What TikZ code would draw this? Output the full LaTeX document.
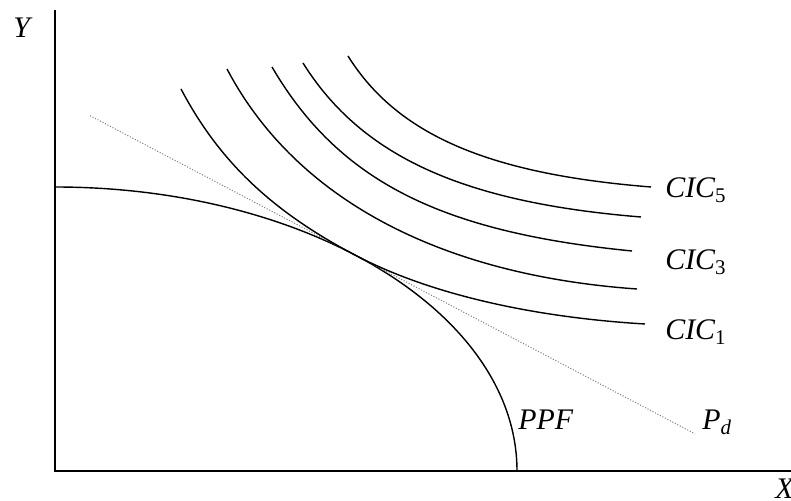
\documentclass[tikz,border=0pt]{standalone}
\usepackage{fontspec}
\setmainfont{Liberation Serif}
\usepackage{tikz}
\usetikzlibrary{calc}

\tikzset{
  axisline/.style={line width=1pt},
  curveline/.style={line width=0.8pt},
  priceline/.style={densely dotted, gray, line width=0.6pt},
  lbl/.style={font=\fontsize{17}{20}\selectfont\itshape, inner sep=0pt, anchor=base west}
}

\begin{document}
\begin{tikzpicture}
        \useasboundingbox (0,0) rectangle (15.82,10.02);

        % Axes
        \coordinate (origin) at (1.10,0.60);
        \draw[axisline] (1.10,9.82) -- (origin) -- (15.82,0.60);
        \node[lbl] (ylabel) at (0.26,9.26) {Y};
        \node[lbl] (xlabel) at (15.50,0.05) {X};

        % Production possibility frontier
        \draw[curveline] (1.10,6.28) arc[start angle=90, end angle=0, x radius=9.24, y radius=5.68];
        \coordinate (tp) at ($(origin)+(49.45:9.24 and 5.68)$);
        \node[lbl] (ppf) at (10.36,1.42) {PPF};

        % Price line (tangent at tp)
        \draw[priceline] ($(tp)+(-5.306,2.790)$) -- ($(tp)+(6.794,-3.572)$);
        \node[lbl] (pd) at (14.04,1.42) {P\textsubscript{d}};

        % Community indifference curves
        \draw[curveline] (3.62,8.24) .. controls (4.38,6.80) and ($(tp)+(-1.68,0.883)$) .. (tp)
            .. controls ($(tp)+(1.434,-0.754)$) and (10.57,3.68) .. (12.90,3.54);
        \draw[curveline] (4.54,8.64) .. controls (5.90,6.06) and (8.77,4.52) .. (12.74,4.24);
        \draw[curveline] (5.44,8.68) .. controls (6.77,6.41) and (8.79,5.38) .. (12.64,5.00);
        \draw[curveline] (6.06,8.76) .. controls (7.23,6.89) and (9.26,5.97) .. (12.82,5.68);
        \draw[curveline] (6.96,8.90) .. controls (7.94,7.33) and (9.76,6.54) .. (13.02,6.28);

        \node[lbl] (cic5) at (13.30,6.06) {CIC\textsubscript{\upshape 5}};
        \node[lbl] (cic3) at (13.30,4.62) {CIC\textsubscript{\upshape 3}};
        \node[lbl] (cic1) at (13.30,3.23) {CIC\textsubscript{\upshape 1}};
\end{tikzpicture}
\end{document}
